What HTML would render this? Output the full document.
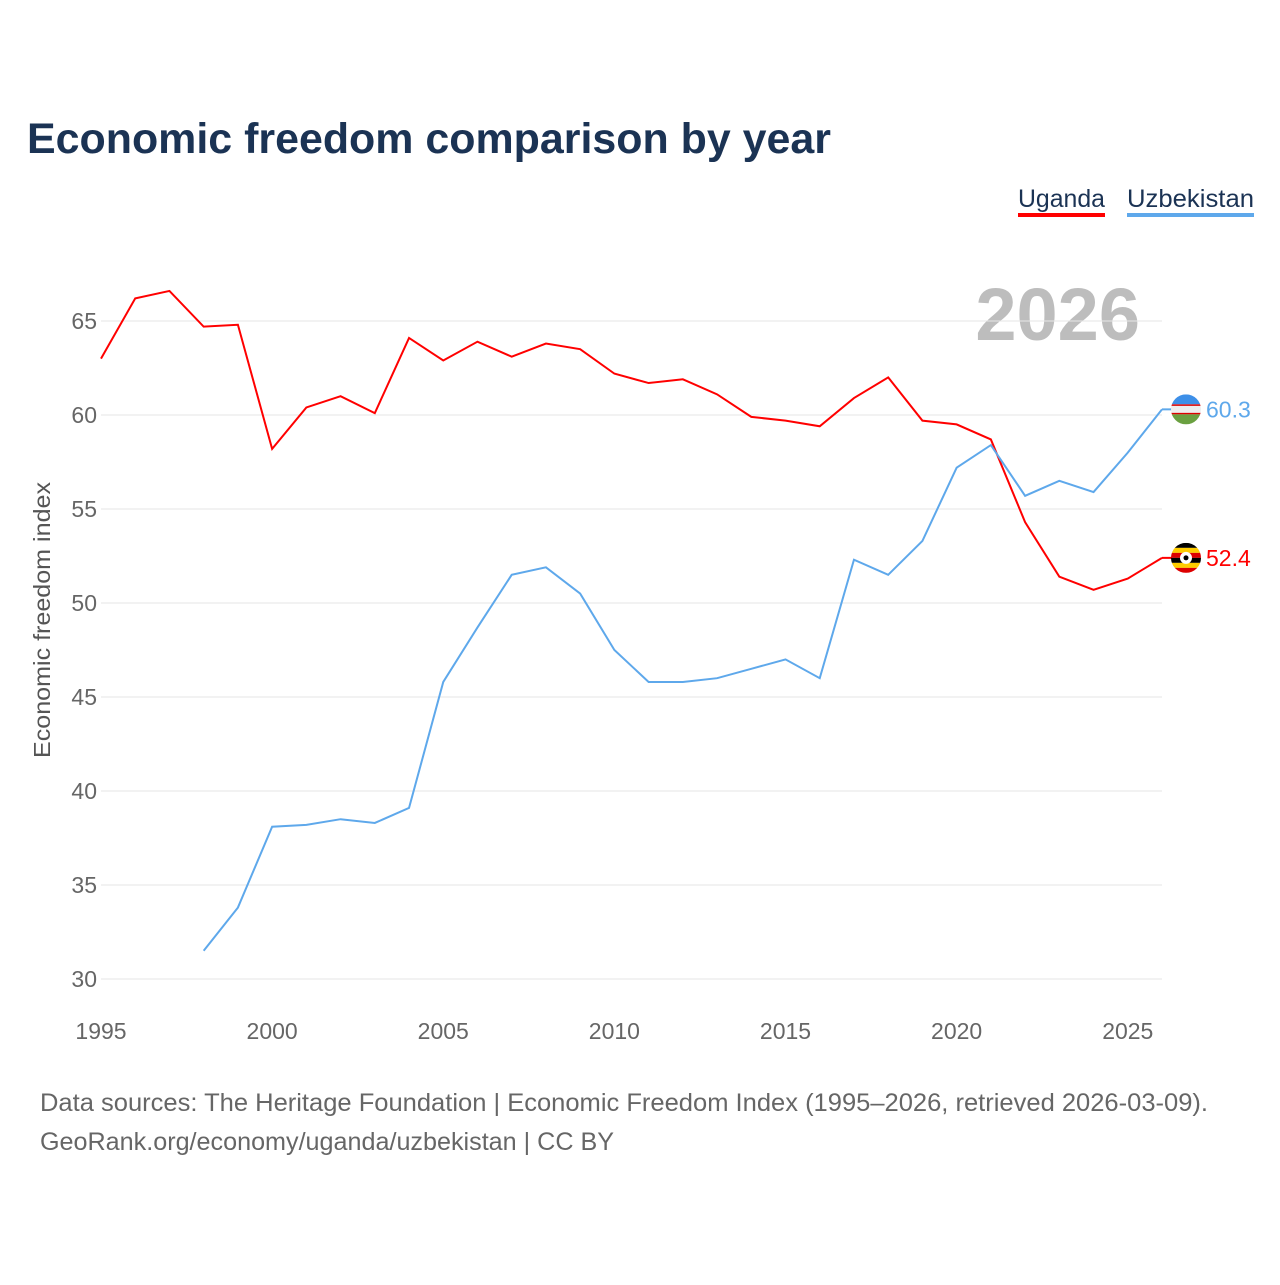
<!DOCTYPE html>
<html><head><meta charset="utf-8"><style>
body{margin:0;background:#fff;font-family:"Liberation Sans",sans-serif}
</style></head><body>
<svg width="1280" height="1280" xmlns="http://www.w3.org/2000/svg" font-family="Liberation Sans, sans-serif">
<text x="27" y="153" font-size="43" font-weight="bold" fill="#1b3354" textLength="804" lengthAdjust="spacingAndGlyphs">Economic freedom comparison by year</text>
<g>
<text x="1018" y="207" font-size="25" fill="#1b3354" textLength="87" lengthAdjust="spacingAndGlyphs">Uganda</text>
<rect x="1018" y="213" width="87" height="4" fill="#ff0000"/>
<text x="1127" y="207" font-size="25" fill="#1b3354" textLength="127" lengthAdjust="spacingAndGlyphs">Uzbekistan</text>
<rect x="1127" y="213" width="127" height="4" fill="#5ea8eb"/>
</g>
<text x="1140" y="340" font-size="74" font-weight="bold" fill="#bdbdbd" text-anchor="end">2026</text>
<g id="grid"></g><g id="xt"></g><g id="lines"></g>
<text transform="translate(50,620) rotate(-90)" font-size="23" fill="#555" text-anchor="middle" textLength="276" lengthAdjust="spacingAndGlyphs">Economic freedom index</text>
<text x="40" y="1111" font-size="25" fill="#666" textLength="1168" lengthAdjust="spacingAndGlyphs">Data sources: The Heritage Foundation | Economic Freedom Index (1995–2026, retrieved 2026-03-09).</text>
<text x="40" y="1150" font-size="25" fill="#666" textLength="574" lengthAdjust="spacingAndGlyphs">GeoRank.org/economy/uganda/uzbekistan | CC BY</text>
</svg>
<script>
const years=[];for(let y=1995;y<=2026;y++)years.push(y);
const uganda=[63.0,66.2,66.6,64.7,64.8,58.2,60.4,61.0,60.1,64.1,62.9,63.9,63.1,63.8,63.5,62.2,61.7,61.9,61.1,59.9,59.7,59.4,60.9,62.0,59.7,59.5,58.7,54.3,51.4,50.7,51.3,52.4];
const uzbekYears=[1998,1999,2000,2001,2002,2003,2004,2005,2006,2007,2008,2009,2010,2011,2012,2013,2014,2015,2016,2017,2018,2019,2020,2021,2022,2023,2024,2025,2026];
const uzbekistan=[31.5,33.8,38.1,38.2,38.5,38.3,39.1,45.8,48.7,51.5,51.9,50.5,47.5,45.8,45.8,46.0,46.5,47.0,46.0,52.3,51.5,53.3,57.2,58.4,55.7,56.5,55.9,58.0,60.3];
const yTicks=[30,35,40,45,50,55,60,65];
const xTicks=[1995,2000,2005,2010,2015,2020,2025];
const NS="http://www.w3.org/2000/svg";
const X=y=>101+(y-1995)*(1162-101)/31;
const Y=v=>979-(v-30)*(979-321)/35;
function mk(t,a,p){const e=document.createElementNS(NS,t);for(const k in a)e.setAttribute(k,a[k]);p.appendChild(e);return e;}
const g=document.getElementById('grid');
yTicks.forEach(v=>{const l=mk('line',{x1:101,x2:1162,y1:Y(v),y2:Y(v),stroke:'#e6e6e6','stroke-width':1},g);


const t=mk('text',{x:97,y:Y(v)+8,'font-size':23,fill:'#666','text-anchor':'end'},g);t.textContent=v;

});
const xt=document.getElementById('xt');
xTicks.forEach(v=>{const t=mk('text',{x:X(v),y:1039,'font-size':23,fill:'#666','text-anchor':'middle'},xt);t.textContent=v;

});
const lg=document.getElementById('lines');
function line(xs,vs,c,name){const p=mk('polyline',{points:xs.map((x,i)=>X(x)+','+Y(vs[i])).join(' '),fill:'none',stroke:c,'stroke-width':2},lg);

}
line(years,uganda,'#ff0000','uganda-line');
line(uzbekYears,uzbekistan,'#5ea8eb','uzbekistan-line');
function flag(v,type,c,name){const cx=1186,cy=Y(v);const gr=mk('g',{},lg);


mk('line',{x1:1162,x2:1172,y1:cy,y2:cy,stroke:c,'stroke-width':2},gr);
const id='c'+name;const cp=mk('clipPath',{id:id},gr);mk('circle',{cx:cx,cy:cy,r:15},cp);
const fg=mk('g',{'clip-path':'url(#'+id+')'},gr);
if(type==='uz'){mk('rect',{x:cx-15,y:cy-15,width:30,height:10,fill:'#3d8fe8'},fg);mk('rect',{x:cx-15,y:cy-5,width:30,height:10,fill:'#eee'},fg);mk('rect',{x:cx-15,y:cy-5,width:30,height:1.5,fill:'#d00'},fg);mk('rect',{x:cx-15,y:cy+3.5,width:30,height:1.5,fill:'#d00'},fg);mk('rect',{x:cx-15,y:cy+5,width:30,height:10,fill:'#6aa040'},fg);}
else{const cols=['#000','#fc0','#d00','#000','#fc0','#d00'];cols.forEach((cc,i)=>mk('rect',{x:cx-15,y:cy-15+i*5,width:30,height:5,fill:cc},fg));mk('circle',{cx:cx,cy:cy,r:6,fill:'#fff'},fg);mk('circle',{cx:cx,cy:cy,r:2.5,fill:'#000'},fg);}
const t=mk('text',{x:1206,y:cy+8,'font-size':23,fill:c},lg);t.textContent=v.toFixed(1);

}
flag(uzbekistan[uzbekistan.length-1],'uz','#5ea8eb','uzbekistan');
flag(uganda[uganda.length-1],'ug','#ff0000','uganda');
</script>
</body></html>
